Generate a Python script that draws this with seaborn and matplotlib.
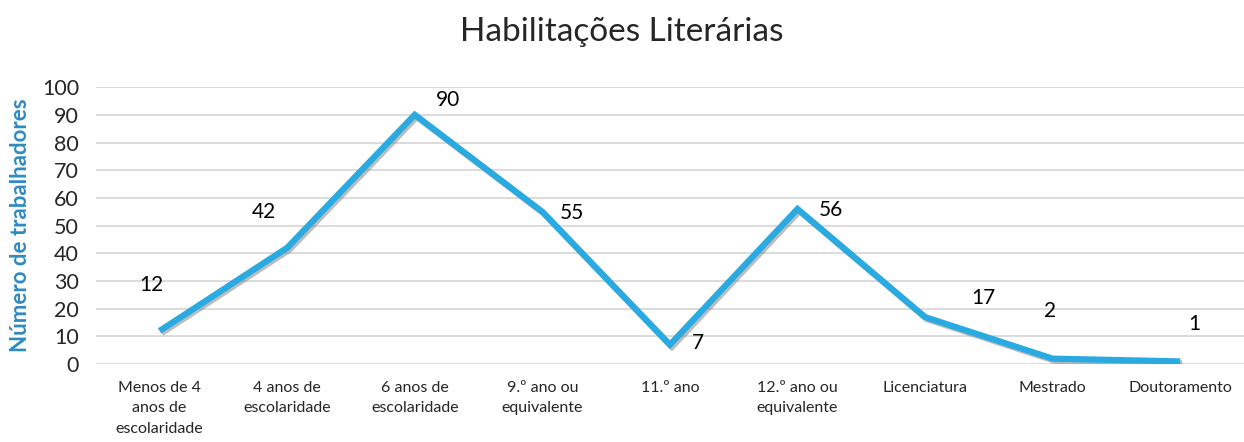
import matplotlib
matplotlib.use("Agg")
import matplotlib.pyplot as plt
import matplotlib.patheffects as pe
import seaborn as sns
import pandas as pd

# data
categories = ["Menos de 4\nanos de\nescolaridade", "4 anos de\nescolaridade", "6 anos de\nescolaridade",
              "9.º ano ou\nequivalente", "11.º ano", "12.º ano ou\nequivalente", "Licenciatura",
              "Mestrado", "Doutoramento"]
workers = [12, 42, 90, 55, 7, 56, 17, 2, 1]
y_ticks = list(range(0, 101, 10))

# label offsets (points) to mimic the manual placement in the original
label_offsets = [(-6, 33), (-17, 26), (24, 11), (21, -1), (20, 1), (24, -1), (42, 14), (-2, 34), (10, 27)]

df = pd.DataFrame({"cat": categories, "n": workers})

sns.set_theme(style="white")
plt.rcParams["font.family"] = ["Lato", "DejaVu Sans"]

fig = plt.figure(figsize=(12.44, 4.42), dpi=100)
ax = fig.add_axes([0.077, 0.176, 0.923, 0.627])

line_color = "#29ABE2"
sns.lineplot(data=df, x="cat", y="n", ax=ax, color=line_color, linewidth=4.5, sort=False,
             path_effects=[pe.SimpleLineShadow(offset=(1.5, -1.5), shadow_color="#888888", alpha=0.55),
                           pe.Normal()])
for line in ax.get_lines():
    line.set_solid_joinstyle("miter")
    line.set_solid_capstyle("butt")

for i, (v, off) in enumerate(zip(workers, label_offsets)):
    ax.annotate(str(v), (i, v), xytext=off, textcoords="offset points",
                ha="center", va="center", fontsize=15, color="#000000")

ax.set_xlim(-0.5, len(categories) - 0.5)
ax.set_ylim(0, 100)
ax.set_yticks(y_ticks)
ax.set_xticks(range(len(categories)))
ax.set_xticklabels(categories, fontsize=11.5, va="top", linespacing=1.6)
ax.tick_params(axis="y", labelsize=15.5, pad=12, length=0)
ax.tick_params(axis="x", length=0, pad=12)
ax.yaxis.grid(True, color="#D9D9D9", linewidth=1.3)
ax.set_axisbelow(True)
for s in ax.spines.values():
    s.set_visible(False)

ax.set_xlabel("")
ax.set_ylabel("Número de trabalhadores", fontsize=16, fontweight="bold", color="#2E8BC0", labelpad=8)
fig.text(0.5, 0.927, "Habilitações Literárias", ha="center", va="center", fontsize=24)

fig.savefig("out.png", dpi=100)
